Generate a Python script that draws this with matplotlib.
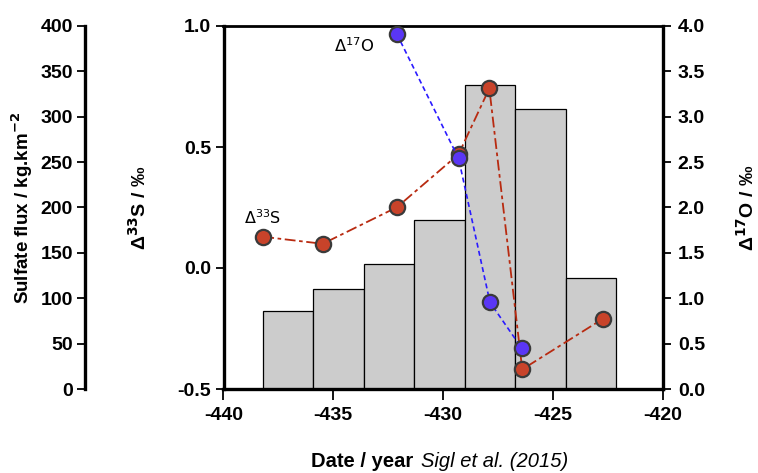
import matplotlib
matplotlib.use("Agg")
import matplotlib.pyplot as plt
import numpy as np

# ---- data ----
bar_edges = [-438.2, -435.9, -433.6, -431.3, -429.0, -426.7, -424.4, -422.1]
sulfate_flux = [86, 110, 138, 186, 335, 309, 122]

d33s_year = [-438.19, -435.48, -432.1, -429.29, -427.89, -426.39, -422.70]
d33s_val = [0.129, 0.100, 0.251, 0.470, 0.742, -0.419, -0.209]

d17o_year = [-432.1, -429.29, -427.86, -426.41]
d17o_val = [3.91, 2.54, 0.955, 0.448]

x_ticks = [-440, -435, -430, -425, -420]
flux_ticks = [0, 50, 100, 150, 200, 250, 300, 350, 400]
s_ticks = [-0.5, 0.0, 0.5, 1.0]
o_ticks = [0.0, 0.5, 1.0, 1.5, 2.0, 2.5, 3.0, 3.5, 4.0]

plt.rcParams['font.family'] = ['Liberation Sans', 'DejaVu Sans']
TICK_FS = 14
LAB_FS = 14

fig = plt.figure(figsize=(7.58, 4.73), dpi=100)
ax = fig.add_axes([223.5/758, 1-389/473, (662.5-223.5)/758, (389-26)/473])

# bars on flux axis
lefts = np.array(bar_edges[:-1])
widths = np.diff(bar_edges)
ax.bar(lefts, sulfate_flux, width=widths, align='edge', color='#cccccc',
       edgecolor='black', linewidth=0.9, zorder=2)
ax.set_xlim(-440, -420)
ax.set_ylim(0, 400)
ax.set_xticks(x_ticks)
ax.set_xticklabels([str(t) for t in x_ticks])
ax.set_yticks(flux_ticks)
ax.spines['left'].set_position(('outward', 99.5))
ax.spines['right'].set_visible(False)
for s in ['left', 'bottom']:
    ax.spines[s].set_linewidth(2.4)
ax.spines['top'].set_linewidth(2.0)
ax.tick_params(axis='both', direction='out', width=1.3, labelsize=TICK_FS, pad=3)
ax.tick_params(axis='x', length=8, pad=5)
ax.tick_params(axis='y', length=6, pad=3)
for lab in ax.get_xticklabels() + ax.get_yticklabels():
    lab.set_fontweight('bold')
ax.set_ylabel('Sulfate flux / kg.km$^{\\mathbf{-2}}$', fontsize=LAB_FS - 0.5,
              fontweight='bold', labelpad=4)

# Delta33S axis (left inner)
axs = ax.twinx()
axs.yaxis.tick_left()
axs.yaxis.set_label_position('left')
axs.set_ylim(-0.5, 1.0)
axs.set_yticks(s_ticks)
axs.set_yticklabels(['%.1f' % t for t in s_ticks])
for s in ['right', 'top', 'bottom']:
    axs.spines[s].set_visible(False)
axs.spines['left'].set_linewidth(2.4)
axs.tick_params(axis='y', direction='out', length=6, width=1.3, labelsize=TICK_FS, pad=3)
for lab in axs.get_yticklabels():
    lab.set_fontweight('bold')
axs.set_ylabel('Δ$^{\\mathbf{33}}$S / ‰', fontsize=LAB_FS, fontweight='bold', labelpad=20)

# Delta17O axis (right)
axo = ax.twinx()
axo.set_ylim(0, 4.0)
axo.set_yticks(o_ticks)
axo.set_yticklabels(['%.1f' % t for t in o_ticks])
for s in ['left', 'top', 'bottom']:
    axo.spines[s].set_visible(False)
axo.spines['right'].set_linewidth(2.4)
axo.tick_params(axis='y', direction='out', length=6, width=1.3, labelsize=TICK_FS, pad=5)
for lab in axo.get_yticklabels():
    lab.set_fontweight('bold')
axo.set_ylabel('Δ$^{\\mathbf{17}}$O / ‰', fontsize=LAB_FS, fontweight='bold', labelpad=22)

# series
axs.plot(d33s_year, d33s_val, linestyle=(0, (6, 2, 2, 2)), color='#b82a10', linewidth=1.3,
         marker='o', markersize=11, markerfacecolor='#c8432a', markeredgecolor='#3a3a3a',
         markeredgewidth=1.6, zorder=3)
axo.plot(d17o_year, d17o_val, linestyle=(0, (3, 2)), color='#2a1aff', linewidth=1.2,
         marker='o', markersize=11, markerfacecolor='#5a36f5', markeredgecolor='#3a3a3a',
         markeredgewidth=1.6, zorder=3)

axs.text(-434.05, 0.92, 'Δ$^{17}$O', fontsize=11.8, family='DejaVu Sans', ha='center', va='center')
axs.text(-438.2, 0.207, 'Δ$^{33}$S', fontsize=11.5, family='DejaVu Sans', ha='center', va='center')

fig.text(413/758, 1-461/473, 'Date / year', fontsize=14.5, fontweight='bold', ha='right', va='center')
fig.text(421/758, 1-461/473, 'Sigl et al. (2015)', fontsize=14.5, style='italic', ha='left', va='center')

fig.savefig('out.png', dpi=100)
